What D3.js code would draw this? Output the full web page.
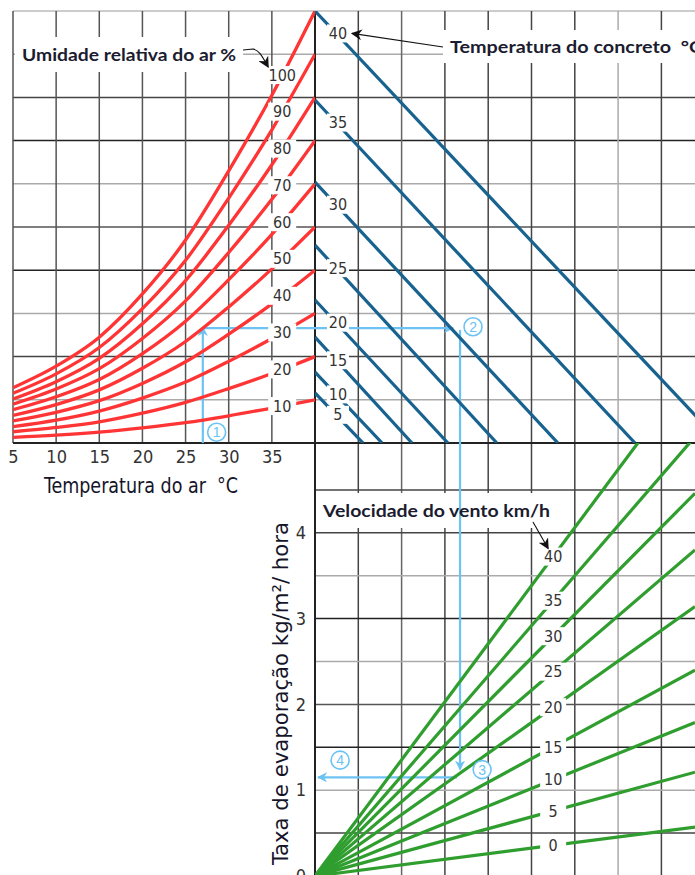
<!DOCTYPE html>
<html>
<head>
<meta charset="utf-8">
<script src="https://cdn.jsdelivr.net/npm/d3@7"></script>
<style>
  html, body { margin: 0; padding: 0; background: #fff; }
  svg { display: block; }
  .num { font-family: 'Liberation Sans Narrow', 'DejaVu Sans Condensed', 'Arial Narrow', sans-serif; fill: #333; }
  .callout { font-family: Lato, 'Open Sans', sans-serif; font-weight: bold; font-size: 17px; fill: #1c1c30; white-space: pre; }
  .title { font-family: 'Liberation Sans Narrow', 'DejaVu Sans Condensed', sans-serif; font-size: 21px; fill: #15152a; white-space: pre; }
</style>
</head>
<body>
<div id="main"></div>
<script>
'use strict'

// air temperature (top left panel)
let airTemps = [5, 10, 15, 20, 25, 30, 35, 40];
let airTicks = [5, 10, 15, 20, 25, 30, 35];

// relative humidity curves: height in grid units read at each air temperature
let rhLevels = [10, 20, 30, 40, 50, 60, 70, 80, 90, 100];
let rh10  = [0.13, 0.18, 0.25, 0.35, 0.47, 0.63, 0.81, 1.00];
let rh20  = [0.26, 0.36, 0.49, 0.69, 0.94, 1.26, 1.61, 2.00];
let rh30  = [0.38, 0.53, 0.74, 1.04, 1.41, 1.89, 2.42, 3.00];
let rh40  = [0.51, 0.71, 0.98, 1.38, 1.88, 2.52, 3.22, 4.00];
let rh50  = [0.64, 0.89, 1.23, 1.73, 2.35, 3.15, 4.03, 5.00];
let rh60  = [0.77, 1.07, 1.47, 2.07, 2.82, 3.78, 4.83, 6.00];
let rh70  = [0.90, 1.25, 1.72, 2.42, 3.29, 4.41, 5.64, 7.00];
let rh80  = [1.02, 1.42, 1.96, 2.76, 3.76, 5.04, 6.44, 8.00];
let rh90  = [1.15, 1.60, 2.21, 3.11, 4.23, 5.67, 7.25, 9.00];
let rh100 = [1.28, 1.78, 2.45, 3.45, 4.70, 6.30, 8.05, 10.00];
let rhCurves = [rh10, rh20, rh30, rh40, rh50, rh60, rh70, rh80, rh90, rh100];

// concrete temperature lines: height where they leave the left axis, run where they reach the bottom
let concreteTemps = [5, 10, 15, 20, 25, 30, 35, 40];
let concreteStart = [1.16, 1.64, 2.45, 3.31, 4.58, 6.04, 7.94, 10.0];
let concreteEnd   = [1.11, 1.55, 2.24, 3.07, 4.20, 5.61, 7.39, 9.38];

// wind speed lines: evaporation rate at the right edge of the panel
let windSpeeds = [0, 5, 10, 15, 20, 25, 30, 35, 40];
let windEnd    = [0.57, 1.21, 1.79, 2.40, 3.14, 3.80, 4.46, 5.12, 5.94];
let rateTicks = [0, 1, 2, 3, 4];

// worked example (light blue path)
let exAir = 27, exVapour = 2.66, exArrowTip = 3.19, exDiff = 3.35, exRateTip = 1.24, exRate = 1.15, exEnd = 0.07;
let exMarks = [
  {n: '1', x: 28.6, y: 0.25, panel: 'air'},
  {n: '2', x: 3.65, y: 2.69, panel: 'vap'},
  {n: '3', x: 3.86, y: 1.24, panel: 'rate'},
  {n: '4', x: 0.58, y: 1.35, panel: 'rate'}
];

drawNomograph();

function drawNomograph(){
  let svgWidth = 695;
  let svgHeight = 875;

  let svg = d3.select('#main').append('svg')
    .attr('width', svgWidth)
    .attr('height', svgHeight);

  // scales
  let xAir = d3.scaleLinear().domain([5, 40]).range([13, 315]);
  let yVap = d3.scaleLinear().domain([0, 10]).range([443, 11]);
  let xDiff = d3.scaleLinear().domain([0, 8.776]).range([315, 695]);
  let yRate = d3.scaleLinear().domain([0, 5]).range([876, 447]);

  let defs = svg.append('defs');
  let clip = (id, x, y, w, h) => defs.append('clipPath').attr('id', id)
    .append('rect').attr('x', x).attr('y', y).attr('width', w).attr('height', h);
  clip('clipAir', 13, 11, 302, 432);
  clip('clipVap', 315, 11, 380, 432);
  clip('clipRate', 315, 443, 380, 433);

  let marker = (id, color, size) => defs.append('marker').attr('id', id)
    .attr('viewBox', '0 0 10 10').attr('refX', 9).attr('refY', 5)
    .attr('markerWidth', size).attr('markerHeight', size)
    .attr('markerUnits', 'userSpaceOnUse').attr('orient', 'auto')
    .append('path').attr('d', 'M0,0 L10,5 L0,10 L3,5 Z').attr('fill', color);
  marker('arrowBlue', '#6cc3f3', 10);
  marker('arrowBlack', '#111', 11);

  //Gridlines
  let vapShade = ['#aaa', '#444', '#aaa', '#222', '#555', '#aaa', '#222', '#444', '#aaa', '#bbb'];
  let diffShade = ['#444', '#666', '#444', '#444', '#444', '#444', '#aaa', '#444'];
  let rateShade = ['#444', '#aaa', '#222', '#555', '#aaa', '#222', '#aaa', '#444', '#444'];
  let grid = svg.append('g').attr('stroke-width', 1.5);

  grid.selectAll('.hv').data(d3.range(1, 11)).enter().append('line')
    .attr('x1', xAir(5)).attr('x2', xDiff.range()[1])
    .attr('y1', d => yVap(d)).attr('y2', d => yVap(d))
    .attr('stroke', (d, i) => vapShade[i]);
  grid.selectAll('.va').data(airTicks).enter().append('line')
    .attr('x1', d => xAir(d)).attr('x2', d => xAir(d))
    .attr('y1', yVap(10)).attr('y2', yVap(0))
    .attr('stroke', '#555');
  grid.selectAll('.vd').data(d3.range(1, 9)).enter().append('line')
    .attr('x1', d => xDiff(d)).attr('x2', d => xDiff(d))
    .attr('y1', yVap(10)).attr('y2', yRate(0))
    .attr('stroke', (d, i) => diffShade[i]);
  grid.selectAll('.hr').data(d3.range(0.5, 5, 0.5)).enter().append('line')
    .attr('x1', xDiff(0)).attr('x2', xDiff.range()[1])
    .attr('y1', d => yRate(d)).attr('y2', d => yRate(d))
    .attr('stroke', (d, i) => rateShade[i]);

  // main axes lines
  svg.append('line').attr('x1', xAir(5)).attr('x2', 695).attr('y1', yVap(0)).attr('y2', yVap(0))
    .attr('stroke', '#222').attr('stroke-width', 2);
  svg.append('line').attr('x1', xDiff(0)).attr('x2', xDiff(0)).attr('y1', yVap(10)).attr('y2', yRate(0))
    .attr('stroke', '#222').attr('stroke-width', 2);

  //Tick labels through axes
  let xAxis = d3.axisBottom(xAir).tickValues(airTicks).tickSize(0).tickPadding(7);
  let gx = svg.append('g').attr('transform', 'translate(0,' + yVap(0) + ')').call(xAxis);
  let yAxis = d3.axisLeft(yRate).tickValues(rateTicks).tickFormat(d3.format('d')).tickSize(0).tickPadding(9);
  let gy = svg.append('g').attr('transform', 'translate(' + xDiff(0) + ',0)').call(yAxis);
  [gx, gy].forEach(g => {
    g.select('.domain').remove();
    g.selectAll('text').attr('class', 'num').attr('font-size', 18).attr('fill', '#333')
      .attr('font-family', null);
  });

  // callout boxes (behind the example path)
  let calloutLayer = svg.append('g');

  //Worked example
  let ex = svg.append('g').attr('fill', 'none').attr('stroke', '#6cc3f3').attr('stroke-width', 2.2);
  ex.append('line').attr('x1', xAir(exAir)).attr('x2', xAir(exAir))
    .attr('y1', yVap(0)).attr('y2', yVap(exVapour) - 1).attr('marker-end', 'url(#arrowBlue)');
  ex.append('line').attr('x1', xAir(exAir)).attr('x2', xDiff(exArrowTip))
    .attr('y1', yVap(exVapour)).attr('y2', yVap(exVapour)).attr('marker-end', 'url(#arrowBlue)');
  ex.append('line').attr('x1', xDiff(exDiff)).attr('x2', xDiff(exDiff))
    .attr('y1', yVap(exVapour) + 2).attr('y2', yRate(exRateTip)).attr('marker-end', 'url(#arrowBlue)');
  ex.append('line').attr('x1', xDiff(exDiff) - 3).attr('x2', xDiff(exEnd))
    .attr('y1', yRate(exRate)).attr('y2', yRate(exRate)).attr('marker-end', 'url(#arrowBlue)');

  //Red humidity curves
  let rhLine = d3.line()
    .x((d, i) => xAir(airTemps[i]))
    .y(d => yVap(d))
    .curve(d3.curveMonotoneX);
  svg.append('g').attr('clip-path', 'url(#clipAir)')
    .selectAll('path').data(rhCurves).enter().append('path')
    .attr('d', rhLine)
    .attr('fill', 'none').attr('stroke', '#ff3434').attr('stroke-width', 3.3);

  //Blue concrete lines
  svg.append('g').attr('clip-path', 'url(#clipVap)')
    .selectAll('line').data(concreteTemps).enter().append('line')
    .attr('x1', xDiff(0)).attr('y1', (d, i) => yVap(concreteStart[i]))
    .attr('x2', (d, i) => xDiff(concreteEnd[i])).attr('y2', yVap(0))
    .attr('stroke', '#17628f').attr('stroke-width', 3.2);

  //Green wind lines
  svg.append('g').attr('clip-path', 'url(#clipRate)')
    .selectAll('line').data(windSpeeds).enter().append('line')
    .attr('x1', xDiff(0)).attr('y1', yRate(0))
    .attr('x2', xDiff(8.776)).attr('y2', (d, i) => yRate(windEnd[i]))
    .attr('stroke', '#2f9e2f').attr('stroke-width', 3.2);

  //Line labels with white boxes
  function lineLabel(x, y, text, w){
    let g = svg.append('g');
    g.append('rect').attr('x', x - w / 2).attr('y', y - 9).attr('width', w).attr('height', 18).attr('fill', '#fff');
    g.append('text').attr('class', 'num').attr('x', x).attr('y', y).attr('dy', '0.35em')
      .attr('text-anchor', 'middle').attr('font-size', 16).text(text);
  }
  let rhLabelT = 36.2;
  let rhAtLabel = c => c[6] + (c[7] - c[6]) * (rhLabelT - 35) / 5;
  rhLevels.forEach((rh, i) => {
    lineLabel(xAir(rhLabelT), yVap(rhAtLabel(rhCurves[i])), rh, 28);
  });
  let ctLabelX = 0.53;
  concreteTemps.forEach((t, i) => {
    let v = concreteStart[i] * (1 - ctLabelX / concreteEnd[i]);
    lineLabel(xDiff(ctLabelX), yVap(v) - 2, t, 22);
  });
  let wsLabelX = 5.5;
  windSpeeds.forEach((w, i) => {
    let v = windEnd[i] * wsLabelX / 8.776;
    lineLabel(xDiff(wsLabelX), yRate(v), w, 26);
  });

  //Numbered circles
  let pos = m => m.panel === 'air' ? [xAir(m.x), yVap(m.y)]
    : m.panel === 'vap' ? [xDiff(m.x), yVap(m.y)] : [xDiff(m.x), yRate(m.y)];
  let marks = svg.append('g').selectAll('g').data(exMarks).enter().append('g')
    .attr('transform', d => 'translate(' + pos(d) + ')');
  marks.append('circle').attr('r', 9).attr('fill', '#fff').attr('stroke', '#6cc3f3').attr('stroke-width', 1.6);
  marks.append('text').text(d => d.n).attr('text-anchor', 'middle').attr('dy', '0.36em')
    .attr('font-family', 'Liberation Sans, sans-serif').attr('font-size', 14).attr('fill', '#6cc3f3');

  //Callouts
  function callout(text, x, y, w, pad){
    let t = svg.append('text').attr('class', 'callout').attr('x', x).attr('y', y)
      .attr('textLength', w).attr('lengthAdjust', 'spacingAndGlyphs').text(text);
    let b = t.node().getBBox();
    calloutLayer.append('rect').attr('x', b.x - pad[0]).attr('y', b.y - pad[1])
      .attr('width', b.width + 2 * pad[0]).attr('height', b.height + 2 * pad[1]).attr('fill', '#fff');
    return b;
  }
  callout('Umidade relativa do ar %', 22, 61, 214, [7, 7]);
  callout('Temperatura do concreto  °C', 450, 53, 252, [7, 6]);
  callout('Velocidade do vento km/h', 323, 517, 227, [5, 7]);

  let arrows = svg.append('g').attr('fill', 'none').attr('stroke', '#111').attr('stroke-width', 1.1);
  let lab100 = yVap(rhAtLabel(rh100));
  arrows.append('path')
    .attr('d', 'M243,50 L253,49 C259,50 262,56 ' + (xAir(rhLabelT) - 14) + ',' + (lab100 - 8))
    .attr('marker-end', 'url(#arrowBlack)');
  let lab40 = yVap(concreteStart[7] * (1 - ctLabelX / concreteEnd[7])) - 2;
  arrows.append('path')
    .attr('d', 'M443,47 L' + (xDiff(ctLabelX) + 14) + ',' + lab40)
    .attr('marker-end', 'url(#arrowBlack)');
  let wind40 = yRate(windEnd[8] * wsLabelX / 8.776);
  arrows.append('path')
    .attr('d', 'M533,522 L' + (xDiff(wsLabelX) - 5) + ',' + (wind40 - 8))
    .attr('marker-end', 'url(#arrowBlack)');

  //Axis titles
  svg.append('text').attr('class', 'title').attr('x', 44).attr('y', 493)
    .attr('textLength', 194).attr('lengthAdjust', 'spacingAndGlyphs')
    .text('Temperatura do ar  °C');
  svg.append('text').attr('class', 'title')
    .attr('transform', 'translate(288,865) rotate(-90)')
    .attr('textLength', 343).attr('lengthAdjust', 'spacingAndGlyphs')
    .text('Taxa de evaporação kg/m²/ hora');
}
</script>
</body>
</html>
